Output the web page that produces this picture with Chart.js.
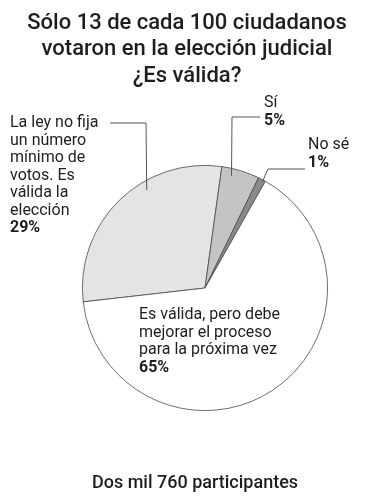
<!DOCTYPE html>
<html>
<head>
<meta charset="utf-8">
<script src="https://cdn.jsdelivr.net/npm/chart.js@4"></script>
<style>
  html, body { margin: 0; padding: 0; background: #fff; }
  #wrap { width: 374px; height: 500px; position: relative; }
</style>
</head>
<body>
<div id="wrap"><canvas id="myChart" width="374" height="500"></canvas></div>
<script>
const titleLines = ['Sólo 13 de cada 100 ciudadanos', 'votaron en la elección judicial', '¿Es válida?'];
const footer = 'Dos mil 760 participantes';
const categories = ['La ley no fija un número mínimo de votos. Es válida la elección', 'Sí', 'No sé', 'Es válida, pero debe mejorar el proceso para la próxima vez'];
const values = [29, 5, 1, 65];
const labelLines = [
    ['La ley no fija', 'un número', 'mínimo de', 'votos. Es', 'válida la', 'elección'],
    ['Sí'],
    ['No sé'],
    ['Es válida, pero debe', 'mejorar el proceso', 'para la próxima vez']
];
const colors = ['#e4e4e4', '#c4c4c4', '#8a8a8a', '#ffffff'];

// where each label sits and where its leader line touches the slice
const labelSetup = [
    { x: 10, y: 123, line: [[110, 123], [146, 123]], at: [0.63, 0.93] },
    { x: 264, y: 103, line: [[260, 117], [232, 117]], at: [0.3, 0.94] },
    { x: 308, y: 145, line: [[305, 169], [268, 169]], at: [0.7, 0.98] },
    { x: 139, y: 315, line: null, at: null }
];

const textPlugin = {
    id: 'texts',
    afterDraw(chart) {
        const ctx = chart.ctx;
        ctx.save();
        ctx.fillStyle = '#1e1e1e';
        ctx.textAlign = 'center';
        ctx.textBaseline = 'middle';
        ctx.font = '500 22px Roboto';
        titleLines.forEach((t, i) => ctx.fillText(t, 187, 23 + i * 26.5));
        ctx.font = '500 18px Roboto';
        ctx.fillText(footer, 195, 483);

        const arcs = chart.getDatasetMeta(0).data;
        ctx.textAlign = 'left';
        labelSetup.forEach((s, i) => {
            const lines = labelLines[i];
            const lh = 17.5;
            ctx.font = '16px Roboto';
            lines.forEach((l, j) => ctx.fillText(l, s.x, s.y + j * lh));
            ctx.font = 'bold 16px Roboto';
            ctx.fillText(values[i] + '%', s.x, s.y + lines.length * lh);
            if (s.line) {
                const a = arcs[i];
                const ang = a.startAngle + (a.endAngle - a.startAngle) * s.at[0];
                const r = a.outerRadius * s.at[1];
                const px = a.x + Math.cos(ang) * r;
                const py = a.y + Math.sin(ang) * r;
                ctx.strokeStyle = '#555';
                ctx.lineWidth = 1;
                ctx.beginPath();
                ctx.moveTo(s.line[0][0], s.line[0][1]);
                ctx.lineTo(s.line[1][0], s.line[1][1]);
                ctx.lineTo(px, py);
                ctx.stroke();
            }
        });
        ctx.restore();
    }
};

let myChart = document.getElementById('myChart').getContext('2d');
let pieChart = new Chart(myChart, {
    type: 'pie',
    data: {
        labels: categories,
        datasets: [{
            data: values,
            backgroundColor: colors,
            borderColor: '#4a4a4a',
            borderWidth: 0.8,
        }]
    },
    options: {
        responsive: false,
        animation: false,
        rotation: -96.5,
        layout: {
            padding: { top: 165, bottom: 89, left: 82, right: 46 }
        },
        plugins: {
            legend: { display: false },
            tooltip: { enabled: false },
            title: { display: false }
        }
    },
    plugins: [textPlugin]
});
</script>
</body>
</html>
